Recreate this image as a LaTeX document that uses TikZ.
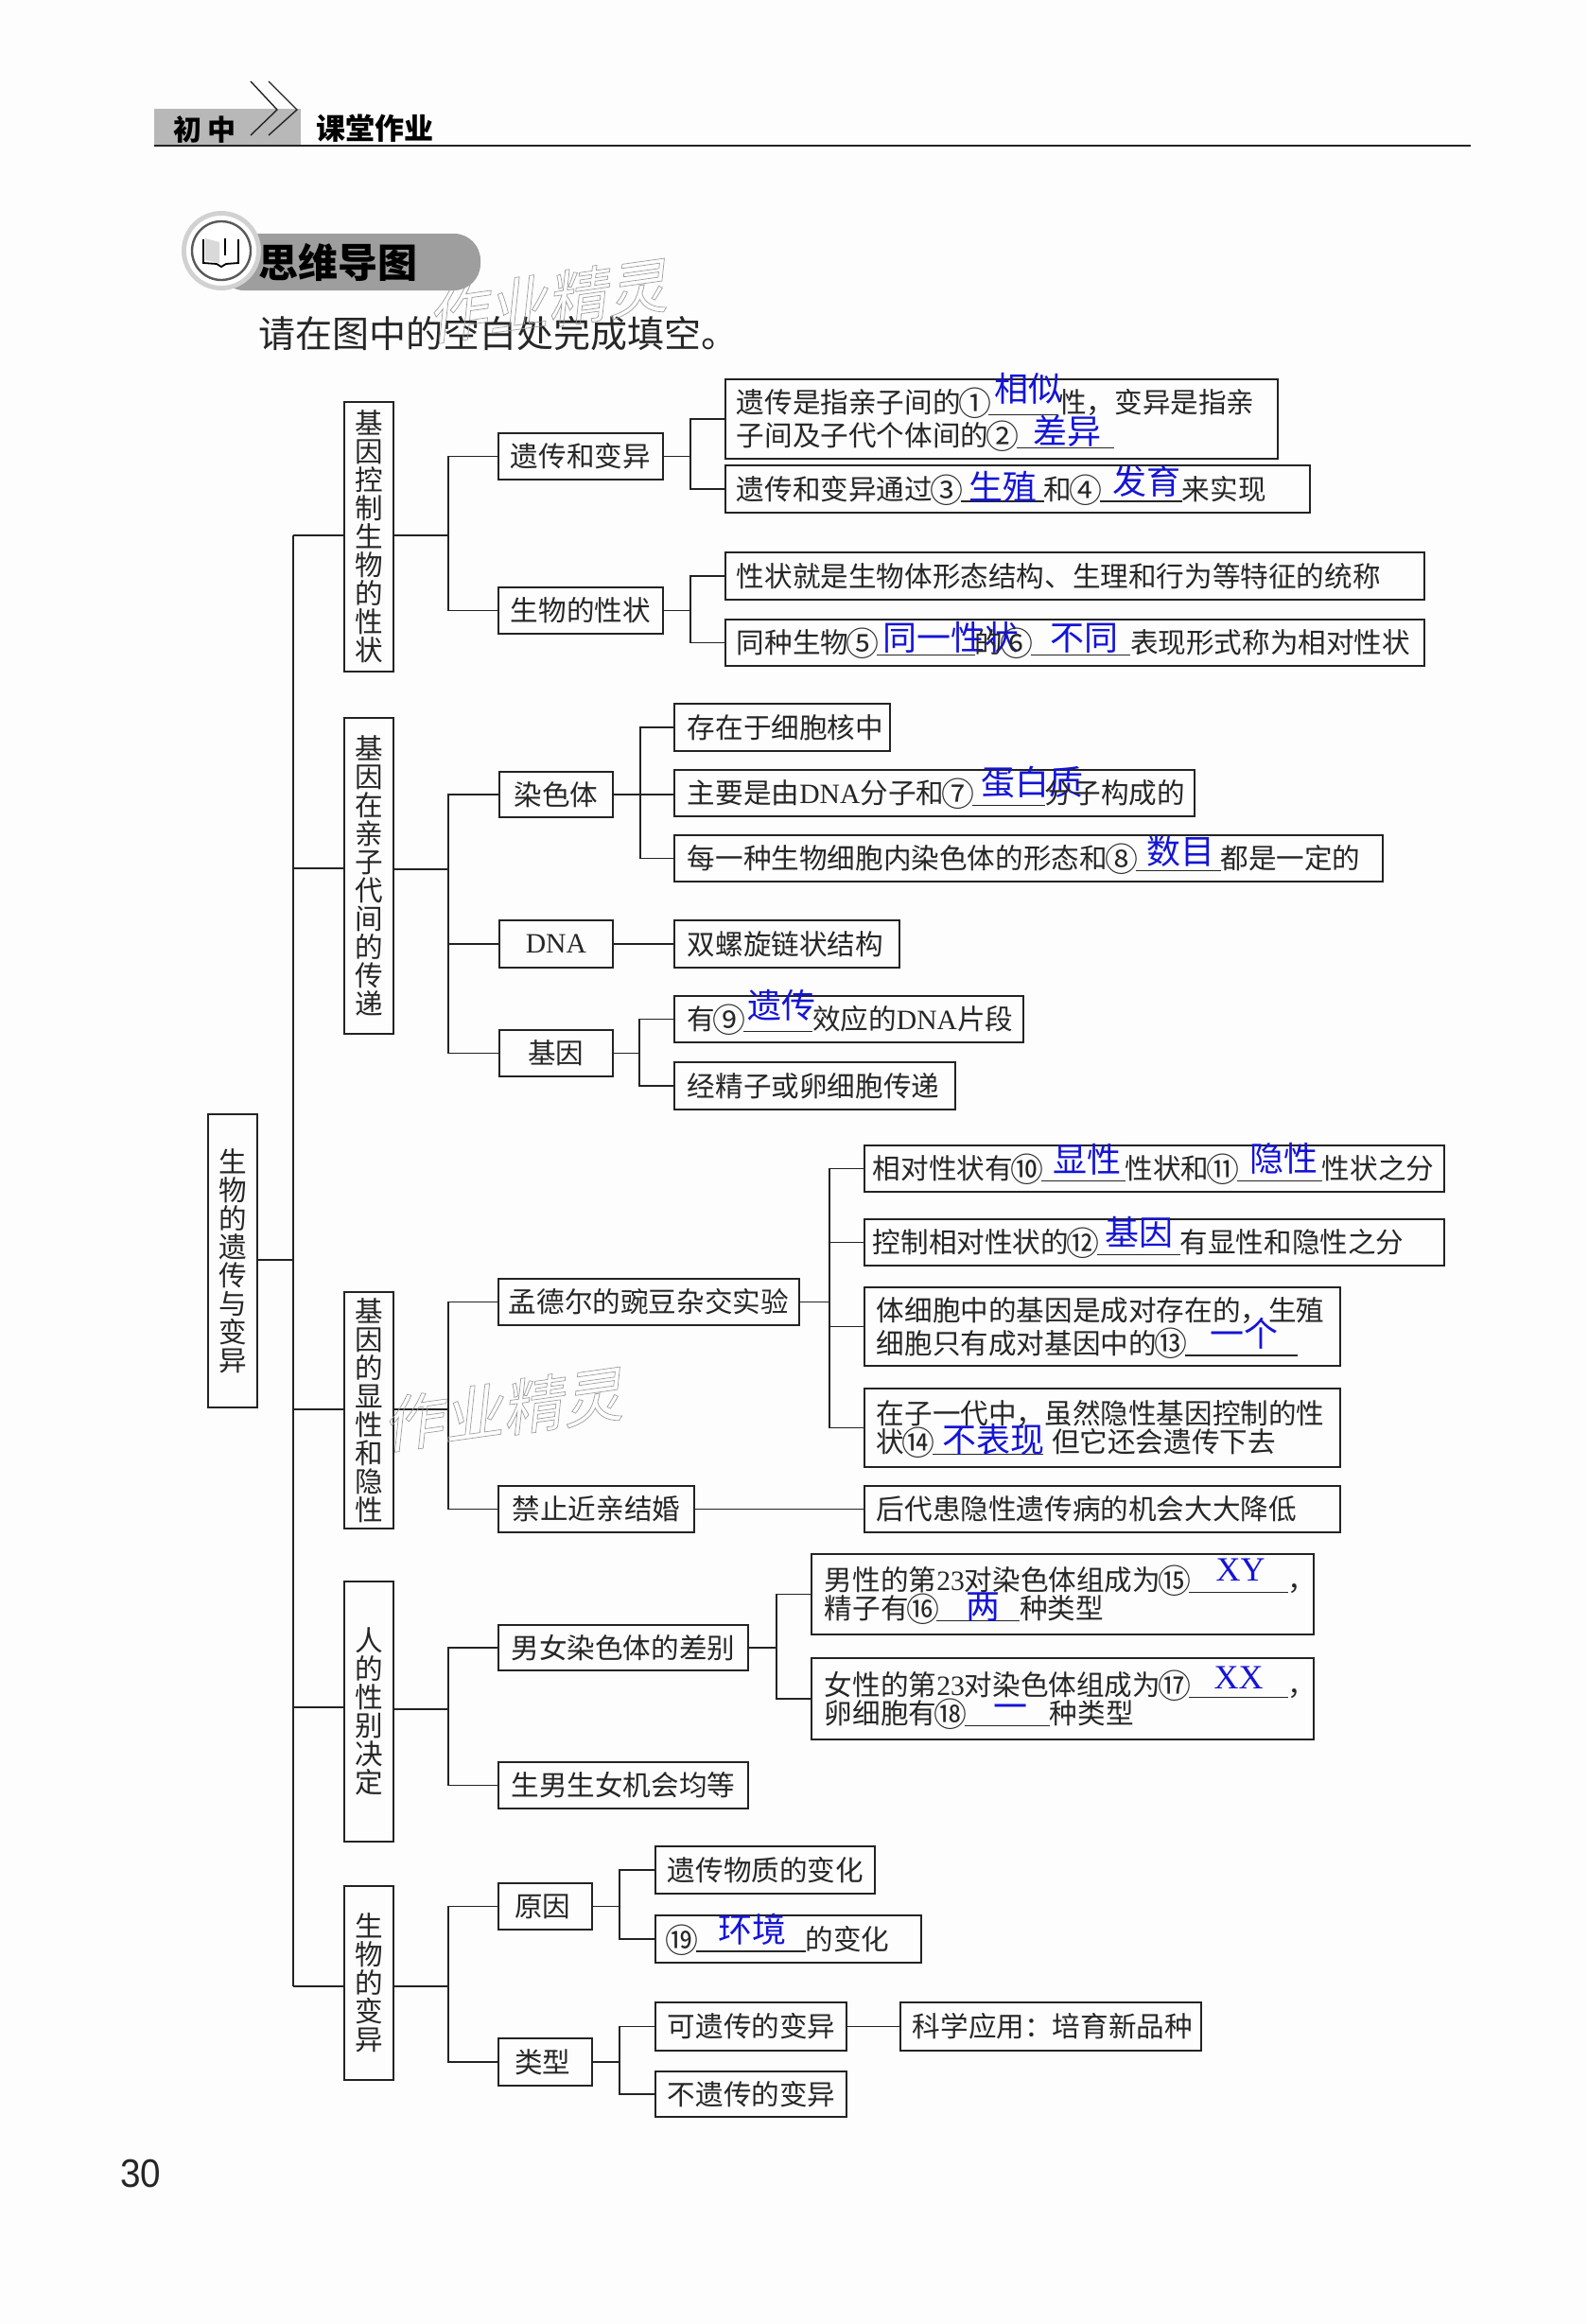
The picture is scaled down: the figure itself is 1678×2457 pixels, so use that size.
\documentclass[tikz,border=0pt]{standalone}
\usepackage{fontspec}
\setmainfont{Noto Sans CJK SC}
\newfontfamily\latfont{Liberation Serif}
\newfontfamily\numfont{Liberation Sans}
\newfontfamily\markfont[FakeSlant=.25]{Noto Sans CJK SC}
\usetikzlibrary{calc,positioning}

\definecolor{inkline}{RGB}{35,35,35}
\definecolor{ansblue}{RGB}{20,20,215}
\definecolor{pagewhite}{RGB}{253,253,253}
\newlength{\px}
\setlength{\px}{.5pt}

% filled-in blank: width, x offset, lift, answer
\newcommand{\ans}[4]{\leavevmode\rlap{\rule[-1.4pt]{#1\px}{.7pt}}\makebox[#1\px][l]{\hspace*{#2\px}\smash{\raisebox{#3\px}{\fontsize{18}{18}\selectfont\color{ansblue}#4}}}}
\newcommand{\lat}[1]{{\latfont #1}}
\newcommand{\cn}[1]{\makebox[1em]{\smash{\raisebox{-.1em}{\scalebox{1.18}{#1}}}}}

\tikzset{
  basebox/.style={draw=inkline,line width=.9pt,inner ysep=0pt,anchor=north west,
                  text=black!85,font=\fontsize{14.8}{15}\selectfont},
  leafbox/.style n args={3}{basebox,minimum width=#1*\px,minimum height=#2*\px,inner xsep=#3*\px,
                  /utils/exec={\pgfmathsetlengthmacro\boxtw{(#1-2*#3)*\px}},text width=\boxtw,align=left},
  midbox/.style 2 args={basebox,minimum width=#1*\px,minimum height=#2*\px,inner xsep=0pt,align=center},
  fork/.style={to path={(\tikztostart.east) -- ++(#1,0) |- (\tikztotarget.west)}},
  trunkfork/.style={to path={(\tikztostart) -- ++(#1,0) |- (\tikztotarget.west)}},
  link/.style={draw=inkline,line width=.9pt},
  wmark/.style={font=\markfont\fontsize{32}{32}\selectfont,inner sep=0pt,rotate=8}
}

\begin{document}
\begin{tikzpicture}[x=.5pt,y=-.5pt]
  \fill[pagewhite] (0,0) rectangle (1678,2457);

  % page head
  \fill[black!28] (163,115) rectangle (318,154);
  \draw[inkline,line width=1pt] (163,154) -- (1555,154);
  \draw[inkline,line width=.7pt] (265,86) -- (293,116) -- (265,143);
  \draw[inkline,line width=.7pt] (284,86) -- (314,116) -- (284,143);
  \node[font=\bfseries\fontsize{15}{15}\selectfont,inner sep=0pt] (grade) at (216,137) {初\hspace{3pt}中};
  \node[font=\bfseries\fontsize{15.5}{15.5}\selectfont,inner sep=0pt,anchor=west] (book) at (334,136) {课堂作业};

  % heading badge
  \fill[black!38,rounded corners=14pt] (230,247) rectangle (508,307);
  \fill[black!18] (234,265) circle (42);
  \fill[white] (234,265) circle (37);
  \draw[black!65,line width=1.2pt] (234,265) circle (31);
  \fill[black!15] (217,252) -- (232,256) -- (232,278) -- (217,275) -- cycle;
  \draw[black,line width=.9pt] (215,253) -- (215,278) -- (229,279) -- (234,282) -- (239,279) -- (252,278) -- (252,253);
  \draw[black,line width=.7pt] (238,252) -- (238,270);
  \node[font=\bfseries\fontsize{21}{21}\selectfont,inner sep=0pt,anchor=west] (title) at (273,277) {思维导图};
  \node[font=\fontsize{19.5}{20}\selectfont,inner sep=0pt,anchor=west,text=black!85] (hint) at (273,353) {请在图中的空白处完成填空。};

  % root and topics
  \node[midbox={52}{310}] (root) at (219,1177) {生\\物\\的\\遗\\传\\与\\变\\异};
  \node[midbox={52}{285}] (a1) at (363,424) {基\\因\\控\\制\\生\\物\\的\\性\\状};
  \node[midbox={52}{334}] (a2) at (363,758) {基\\因\\在\\亲\\子\\代\\间\\的\\传\\递};
  \node[midbox={52}{250}] (a3) at (363,1365) {基\\因\\的\\显\\性\\和\\隐\\性};
  \node[midbox={52}{275}] (a4) at (363,1671) {人\\的\\性\\别\\决\\定};
  \node[midbox={52}{205}] (a5) at (363,1993) {生\\物\\的\\变\\异};

  % second level
  \node[midbox={174}{49}] (heredity) at (526,457) {遗传和变异};
  \node[midbox={174}{49}] (trait) at (526,620) {生物的性状};
  \node[midbox={120}{48}] (chromo) at (527,815) {染色体};
  \node[midbox={120}{50},font=\latfont\fontsize{14.8}{15}\selectfont] (dna) at (527,972) {DNA};
  \node[midbox={120}{49}] (gene) at (527,1088) {基因};
  \node[midbox={318}{49}] (mendel) at (526,1351) {孟德尔的豌豆杂交实验};
  \node[midbox={207}{49}] (marriage) at (526,1570) {禁止近亲结婚};
  \node[midbox={264}{48}] (sexdiff) at (526,1717) {男女染色体的差别};
  \node[midbox={264}{49}] (equal) at (526,1862) {生男生女机会均等};
  \node[midbox={99}{49}] (cause) at (526,1990) {原因\hspace{5\px}};
  \node[midbox={99}{50}] (kind) at (526,2154) {类型\hspace{5\px}};

  % leaves
  \node[leafbox={584}{84}{12}] (h1) at (766,400) {遗传是指亲子间的\cn{①}\ans{74}{6}{12}{相似}性，变异是指亲\\[2.5pt]子间及子代个体间的\cn{②}\ans{103}{18}{2}{差异}};
  \node[leafbox={618}{50}{12}] (h2) at (766,491) {遗传和变异通过\cn{③}\ans{88}{9}{0}{生殖}和\cn{④}\ans{87}{14}{6}{发育}来实现};
  \node[leafbox={739}{50}{12}] (t1) at (766,583) {性状就是生物体形态结构、生理和行为等特征的统称};
  \node[leafbox={739}{49}{12}] (t2) at (766,654) {同种生物\cn{⑤}\ans{104}{7}{3}{同一性状}的\cn{⑥}\ans{105}{20}{3}{不同}表现形式称为相对性状};
  \node[leafbox={228}{50}{14}] (c1) at (712,743) {存在于细胞核中};
  \node[leafbox={550}{49}{14}] (c2) at (712,813) {主要是由\lat{DNA}分子和\cn{⑦}\ans{77}{10}{9}{蛋白质}分子构成的};
  \node[leafbox={749}{49}{14}] (c3) at (712,882) {每一种生物细胞内染色体的形态和\cn{⑧}\ans{90}{12}{5}{数目}都是一定的};
  \node[leafbox={238}{50}{14}] (d1) at (712,972) {双螺旋链状结构};
  \node[leafbox={369}{49}{14}] (g1) at (712,1052) {有\cn{⑨}\ans{73}{4}{12}{遗传}效应的\lat{DNA}片段};
  \node[leafbox={297}{50}{14}] (g2) at (712,1122) {经精子或卵细胞传递};
  \node[leafbox={613}{49}{9}] (m1) at (913,1210) {相对性状有\cn{⑩}\ans{89}{13}{7}{显性}性状和\cn{⑪}\ans{90}{14}{8}{隐性}性状之分};
  \node[leafbox={613}{49}{9}] (m2) at (913,1288) {控制相对性状的\cn{⑫}\ans{88}{9}{8}{基因}有显性和隐性之分};
  \node[leafbox={503}{83}{13}] (m3) at (913,1360) {体细胞中的基因是成对存在的，生殖\\[2.5pt]细胞只有成对基因中的\cn{⑬}\ans{119}{27}{8}{一个}};
  \node[leafbox={503}{83}{13}] (m4) at (913,1467) {在子一代中，虽然隐性基因控制的性\\状\cn{⑭}\ans{117}{10}{0}{不表现}\hspace{9\px}但它还会遗传下去};
  \node[leafbox={503}{49}{13}] (k1) at (913,1570) {后代患隐性遗传病的机会大大降低};
  \node[leafbox={531}{85}{14}] (s1) at (857,1642) {男性的第\lat{23}对染色体组成为\cn{⑮}\ans{105}{29}{10}{\latfont XY}，\\精子有\cn{⑯}\ans{88}{31}{0}{两}种类型};
  \node[leafbox={531}{86}{14}] (s2) at (857,1752) {女性的第\lat{23}对染色体组成为\cn{⑰}\ans{105}{27}{7}{\latfont XX}，\\卵细胞有\cn{⑱}\ans{90}{31}{5}{一}种类型};
  \node[leafbox={232}{50}{13}] (v1) at (692,1951) {遗传物质的变化};
  \node[leafbox={281}{50}{13}] (v2) at (692,2024) {\cn{⑲}\ans{116}{24}{8}{环境}的变化};
  \node[leafbox={202}{51}{13}] (v3) at (692,2116) {可遗传的变异};
  \node[leafbox={318}{51}{13}] (use) at (951,2116) {科学应用：培育新品种};
  \node[leafbox={202}{48}{13}] (v4) at (692,2189) {不遗传的变异};

  % main trunk
  \coordinate (rootj) at (310,1332);
  \coordinate (j1) at (310,566);
  \coordinate (j2) at (310,918);
  \coordinate (j3) at (310,1490);
  \coordinate (j4) at (310,1805);
  \coordinate (j5) at (310,2100);
  \draw[link] (rootj -| root.east) -- (rootj);
  \draw[link] (j1) -- (j5);
  \foreach \i in {1,...,5} {
    \draw[link] (j\i) -- (j\i -| a\i.west);
  }
  \coordinate (o1) at (415,566);
  \coordinate (o2) at (415,919);
  \coordinate (o3) at (415,1490);
  \coordinate (o4) at (415,1807);
  \coordinate (o5) at (415,2100);

  % forks
  \foreach \from/\to in {o1/heredity,o1/trait,o2/chromo,o2/dna,o2/gene,
      o3/mendel,o3/marriage,o4/sexdiff,o4/equal,o5/cause,o5/kind} {
    \draw[link,trunkfork=59] (\from) to (\to);
  }
  \foreach \from/\to/\dx in {heredity/h1/28,heredity/h2/28,trait/t1/28,trait/t2/28,
      chromo/c1/28,chromo/c3/28,gene/g1/27,gene/g2/27,
      mendel/m1/31,mendel/m2/31,mendel/m3/31,mendel/m4/31,
      sexdiff/s1/29,sexdiff/s2/29,cause/v1/28,cause/v2/28,kind/v3/28,kind/v4/28} {
    \draw[link,fork=\dx] (\from) to (\to);
  }
  \draw[link] (chromo.east) -- (chromo.east -| c2.west);
  \draw[link] (dna) -- (d1);
  \draw[link] (marriage) -- (k1);
  \draw[link] (v3) -- (use);

  % page number
  \node[font=\numfont\fontsize{21}{21}\selectfont,inner sep=0pt,text=black!85] (pageno) at (149,2298) {\scalebox{.92}[1]{30}};

  % scan marks
  \node[wmark] (mark1) at (577,318) {\special{pdf:code q 1 Tr .35 w .62 G}作业精灵\special{pdf:code Q}};
  \node[wmark] (mark2) at (530,1490) {\special{pdf:code q 1 Tr .35 w .62 G}作业精灵\special{pdf:code Q}};
\end{tikzpicture}
\end{document}
